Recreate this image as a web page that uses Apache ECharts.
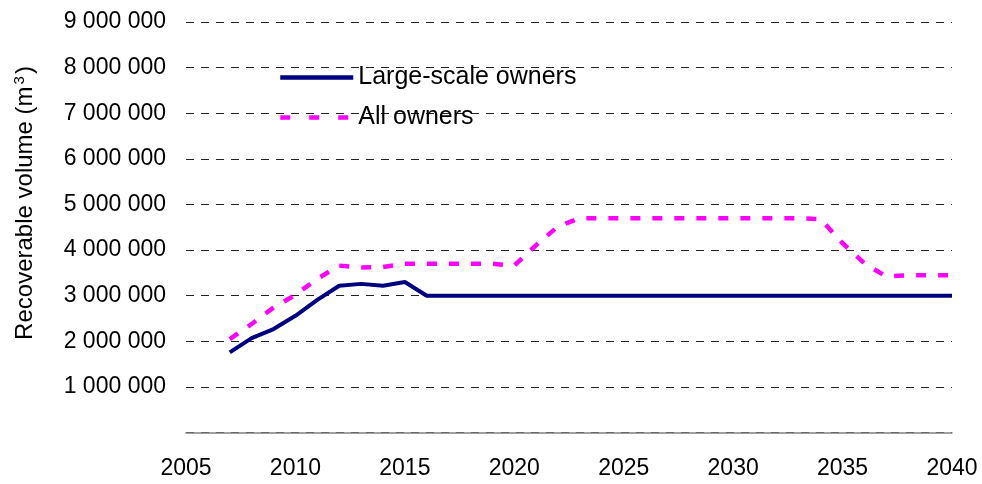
<!DOCTYPE html>
<html>
<head>
<meta charset="utf-8">
<script src="https://cdn.jsdelivr.net/npm/echarts@6/dist/echarts.min.js"></script>
<style>
  html, body { margin: 0; padding: 0; background: #fff; }
  #chart { width: 982px; height: 484px; }
</style>
</head>
<body>
<div id="chart"></div>
<script>
// years on the x axis
var years = [2007, 2008, 2009, 2010, 2011, 2012, 2013, 2014, 2015, 2016,
  2017, 2018, 2019, 2020, 2021, 2022, 2023, 2024, 2025, 2026,
  2027, 2028, 2029, 2030, 2031, 2032, 2033, 2034, 2035, 2036,
  2037, 2038, 2039, 2040]

// recoverable volume, m3
var largeScale = [1760000, 2070000, 2270000, 2560000, 2910000, 3220000, 3260000, 3220000, 3300000, 3000000,
  3000000, 3000000, 3000000, 3000000, 3000000, 3000000, 3000000, 3000000, 3000000, 3000000,
  3000000, 3000000, 3000000, 3000000, 3000000, 3000000, 3000000, 3000000, 3000000, 3000000,
  3000000, 3000000, 3000000, 3000000]
var allOwners = [2050000, 2380000, 2740000, 3020000, 3370000, 3660000, 3620000, 3630000, 3700000, 3700000,
  3700000, 3700000, 3700000, 3660000, 4110000, 4520000, 4700000, 4700000, 4700000, 4700000,
  4700000, 4700000, 4700000, 4700000, 4700000, 4700000, 4700000, 4680000, 4150000, 3710000,
  3420000, 3450000, 3450000, 3450000]

var seriesNames = ['Large-scale owners', 'All owners']

function pairs(vals) {
  return years.map(function(y, i) { return [y, vals[i]] })
}

function fmtNum(v) {
  if (v === 0) return ''
  return String(v).replace(/\B(?=(\d{3})+(?!\d))/g, ' ')
}

var font = 'Liberation Sans, Arial, sans-serif'
var chart = echarts.init(document.getElementById('chart'))
chart.setOption({
  backgroundColor: '#fff',
  animation: false,
  grid: { left: 186, right: 30, top: 22, bottom: 51.4 },
  legend: {
    orient: 'vertical',
    left: 278,
    top: 65,
    padding: 0,
    itemWidth: 73,
    itemHeight: 24,
    itemGap: 15,
    itemStyle: { opacity: 0 },
    textStyle: { fontFamily: font, fontSize: 25, color: '#000', lineHeight: 24 },
    data: [
      { name: seriesNames[0], lineStyle: { width: 4.5 } },
      { name: seriesNames[1], lineStyle: { width: 4.5, type: [10, 19] } }
    ]
  },
  graphic: [{
    type: 'text',
    x: 25,
    y: 203,
    rotation: Math.PI / 2,
    style: {
      text: 'Recoverable volume (m{sup|3})',
      font: '24px ' + font,
      fill: '#000',
      align: 'center',
      verticalAlign: 'middle',
      rich: {
        sup: { fontSize: 15, fontFamily: font, verticalAlign: 'top', padding: [0, 2, 10, 2] }
      }
    }
  }],
  xAxis: {
    type: 'value',
    min: 2005,
    max: 2040,
    interval: 5,
    axisLine: { show: true, lineStyle: { color: '#808080', width: 1.5 } },
    axisTick: { show: false },
    splitLine: { show: false },
    axisLabel: {
      fontFamily: font, fontSize: 23, color: '#000', margin: 25,
      formatter: function(v) { return String(v) }
    }
  },
  yAxis: {
    type: 'value',
    min: 0,
    max: 9000000,
    interval: 1000000,
    axisLine: { show: false },
    axisTick: { show: false },
    splitLine: { show: true, lineStyle: { color: '#222', width: 1, type: [8, 7] } },
    axisLabel: {
      fontFamily: font, fontSize: 23, color: '#000', margin: 20,
      formatter: fmtNum
    }
  },
  series: [
    {
      name: seriesNames[0],
      type: 'line',
      symbol: 'none',
      data: pairs(largeScale),
      lineStyle: { color: '#000080', width: 4 },
      itemStyle: { color: '#000080' },
      z: 3
    },
    {
      name: seriesNames[1],
      type: 'line',
      symbol: 'none',
      data: pairs(allOwners),
      lineStyle: { color: '#ff00ff', width: 4.5, type: [10, 12] },
      itemStyle: { color: '#ff00ff' },
      z: 2
    }
  ]
})
</script>
</body>
</html>
